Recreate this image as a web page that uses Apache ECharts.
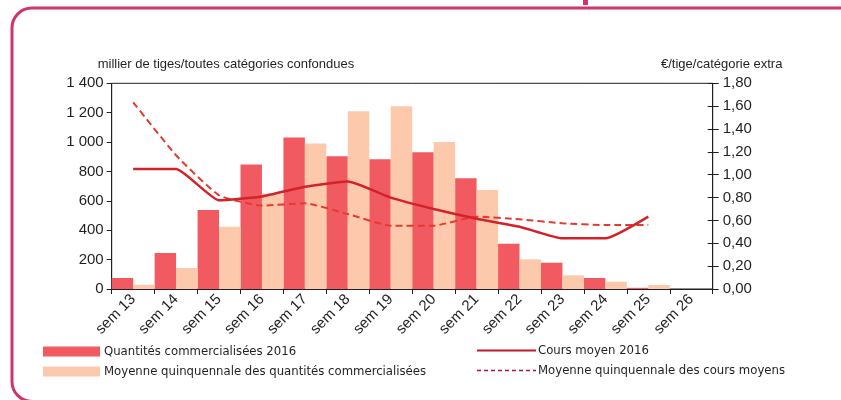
<!DOCTYPE html>
<html><head><meta charset="utf-8">
<script src="https://cdn.jsdelivr.net/npm/echarts@6/dist/echarts.min.js"></script>
<style>html,body{margin:0;padding:0;background:#fff}#c{width:841px;height:400px}</style>
</head><body><div id="c"></div>
<script>
const categories = ['sem 13','sem 14','sem 15','sem 16','sem 17','sem 18','sem 19','sem 20','sem 21','sem 22','sem 23','sem 24','sem 25','sem 26'];
const qty2016 = [75,245,537,847,1031,904,883,931,754,308,179,75,8,null];
const qtyAvg = [29,143,424,650,990,1210,1244,1001,673,202,93,50,27,null];
const cours2016 = [1.05,1.05,0.776,0.81,0.895,0.94,0.80,0.70,0.615,0.545,0.443,0.443,0.633,null];
const coursAvg = [1.634,1.17,0.82,0.73,0.75,0.656,0.554,0.554,0.633,0.61,0.575,0.56,0.56,null];
const leftTicks = {min:0, max:1400, interval:200};
const rightTicks = {min:0, max:1.8, interval:0.2};
const names = ['Quantités commercialisées 2016','Moyenne quinquennale des quantités commercialisées','Cours moyen 2016','Moyenne quinquennale des cours moyens'];

const FONT = "'Liberation Sans', Arial, sans-serif";
const NARROW = "'Liberation Sans Narrow', 'DejaVu Sans Condensed', sans-serif";
const ink = '#231f20';
const chart = echarts.init(document.getElementById('c'), null, {renderer:'canvas'});
chart.setOption({
  animation:false,
  textStyle:{fontFamily:FONT, color:ink},
  grid:{left:111.7, right:128.3, top:83.3, bottom:111, show:true, borderColor:ink, borderWidth:1, backgroundColor:'transparent'},
  graphic:[
    {type:'rect', shape:{x:12, y:8, width:900, height:393.5, r:20}, style:{fill:null, stroke:'#cf3667', lineWidth:3}, silent:true},
    {type:'rect', shape:{x:583, y:0, width:5, height:5}, style:{fill:'#cf3667'}, silent:true}
  ],
  legend:[
    {data:[names[0],names[1]], left:43, top:345, orient:'vertical', padding:0, itemWidth:57, itemHeight:10, itemGap:7,
     icon:'rect', textStyle:{fontFamily:NARROW, fontSize:13, color:ink, padding:[0,0,0,-1]}, itemStyle:{borderWidth:0}},
    {data:[{name:names[2], lineStyle:{color:'#c0182a', width:2}, itemStyle:{opacity:0}},
           {name:names[3], lineStyle:{color:'#a8123d', width:1.5, type:[4,3]}, itemStyle:{opacity:0}}],
     left:476, top:344, orient:'vertical', padding:0, itemWidth:59, itemHeight:10, itemGap:7,
     textStyle:{fontFamily:NARROW, fontSize:13, color:ink, padding:[0,0,0,-3]}}
  ],
  xAxis:{type:'category', data:categories, boundaryGap:true,
    axisLine:{lineStyle:{color:ink, width:1}},
    axisTick:{show:true, length:5, lineStyle:{color:ink}},
    axisLabel:{rotate:45, fontSize:15, color:ink, margin:8, interval:0},
    splitLine:{show:false}},
  yAxis:[
    {type:'value', min:leftTicks.min, max:leftTicks.max, interval:leftTicks.interval, position:'left',
     name:'millier de tiges/toutes catégories confondues', nameLocation:'end', nameGap:12,
     nameTextStyle:{fontSize:13, color:ink, align:'left', padding:[0,0,0,-14]},
     axisLine:{show:true, lineStyle:{color:ink}}, axisTick:{show:true, length:5, lineStyle:{color:ink}},
     axisLabel:{fontSize:15, color:ink, margin:8, formatter:v=>String(v).replace(/\B(?=(\d{3})+(?!\d))/g,' ')},
     splitLine:{show:false}},
    {type:'value', min:rightTicks.min, max:rightTicks.max, interval:rightTicks.interval, position:'right',
     name:'€/tige/catégorie extra', nameLocation:'end', nameGap:12,
     nameTextStyle:{fontSize:13, color:ink, align:'center', padding:[0,0,0,18]},
     axisLine:{show:true, lineStyle:{color:ink}}, axisTick:{show:true, length:6, lineStyle:{color:ink}},
     axisLabel:{fontSize:15, color:ink, margin:10, formatter:v=>v.toFixed(2).replace('.',',')},
     splitLine:{show:false}},
    {type:'value', min:rightTicks.min, max:rightTicks.max, interval:rightTicks.interval, position:'right',
     axisLine:{show:false}, axisTick:{show:true, inside:true, length:5, lineStyle:{color:ink}},
     axisLabel:{show:false}, splitLine:{show:false}}
  ],
  series:[
    {name:names[0], type:'bar', data:qty2016, yAxisIndex:0, barGap:'0%', barCategoryGap:'0%', itemStyle:{color:'#f15a60'}},
    {name:names[1], type:'bar', data:qtyAvg, yAxisIndex:0, barGap:'0%', barCategoryGap:'0%', itemStyle:{color:'#fcc9ad'}},
    {name:names[2], type:'line', data:cours2016, yAxisIndex:1, symbol:'none', smooth:0.15, z:5,
     lineStyle:{color:'#d2232a', width:2.5}, itemStyle:{color:'#c0182a'}},
    {name:names[3], type:'line', data:coursAvg, yAxisIndex:1, symbol:'none', smooth:0.15, z:4,
     lineStyle:{color:'#e53a2f', width:2, type:[7,4]}, itemStyle:{color:'#a8123d'}}
  ]
});
</script></body></html>
